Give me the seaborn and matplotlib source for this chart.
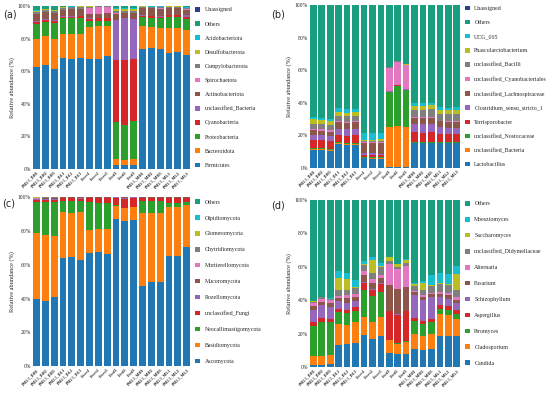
import numpy as np
import matplotlib.pyplot as plt
from matplotlib.patches import Patch
from matplotlib.ticker import PercentFormatter
import seaborn as sns

sns.set_theme(style="white")
plt.rcParams["font.family"] = ["Liberation Serif", "DejaVu Serif"]

samples = ["PM2.5_DH1", "PM2.5_DH2", "PM2.5_DH3", "PM2.5_DL1", "PM2.5_DL2", "PM2.5_DL3",
           "Feces1", "Feces2", "Feces3", "Feed1", "Feed2", "Feed3",
           "PM2.5_MH1", "PM2.5_MH2", "PM2.5_MH3", "PM2.5_ML1", "PM2.5_ML2", "PM2.5_ML3"]

# (a) bacterial phyla, bottom -> top
bact_phylum = {
    "Firmicutes":            [62.5, 63.5, 61.5, 68, 67.5, 68, 67.7, 67.5, 69, 2.4, 2.2, 2.6, 73.5, 74, 73.5, 71, 71.5, 70],
    "Bacteroidota":          [17, 18, 18.5, 15, 15.5, 15, 19.5, 20, 18.5, 3.7, 3.5, 3.6, 14, 13, 13, 15.5, 15, 15],
    "Proteobacteria":        [9.5, 8.5, 9.5, 9.5, 9.5, 9.5, 3.5, 3.5, 3.5, 22.9, 21.3, 23, 5.5, 5.5, 6, 6.5, 6.5, 7],
    "Cyanobacteria":         [1.2, 1.5, 1.5, 1, 1, 1.2, 1.5, 1.5, 1.5, 38.1, 40, 38.5, 1, 1.2, 1, 1.3, 1.3, 1],
    "unclassified_Bacteria": [0.6, 0.5, 0.5, 0.5, 0.4, 0.3, 0.3, 0.3, 0.3, 24.5, 25.5, 24.5, 0.3, 0.3, 0.3, 0.3, 0.3, 1.2],
    "Actinobacteriota":      [4, 4, 4, 3.5, 4, 4, 2.5, 2.5, 3, 3.7, 3, 3.3, 4.5, 4.5, 4.5, 4, 4, 3.5],
    "Spirochaetota":         [0.3, 0.4, 0.3, 0.3, 0.3, 0.3, 4, 4, 3.5, 0.3, 0.3, 0.3, 0.2, 0.2, 0.2, 0.3, 0.3, 0.3],
    "Campylobacterota":      [1, 1, 1, 1, 1, 1, 0.5, 0.4, 0.4, 1, 1, 1, 0.5, 0.6, 0.7, 0.5, 0.5, 0.5],
    "Desulfobacterota":      [0.6, 0.5, 0.5, 0.5, 0.4, 0.4, 0.3, 0.2, 0.2, 1.3, 1.3, 1.2, 0.2, 0.3, 0.3, 0.3, 0.3, 0.3],
    "Acidobacteriota":       [0.5, 0.3, 0.5, 0.3, 0.2, 0.2, 0.1, 0.05, 0.05, 0.8, 0.7, 0.7, 0.1, 0.2, 0.2, 0.1, 0.1, 0.5],
    "Others":                [2.8, 1.8, 2.2, 0.4, 0.2, 0.1, 0.1, 0.05, 0.05, 1.3, 1.2, 1.3, 0.2, 0.2, 0.3, 0.2, 0.2, 0.7],
    "Unassigned":            [0.05] * 18,
}

# (b) bacterial genera, bottom -> top
bact_genus = {
    "Lactobacillus":                  [10.8, 11, 10.5, 14.5, 14, 14, 5.8, 5.5, 5.5, 0.6, 0.5, 0.8, 15, 15, 15, 15, 15, 15],
    "unclassified_Bacteria":          [0.5, 0.5, 0.5, 0.5, 0.5, 0.5, 0.3, 0.3, 0.3, 24.4, 25.5, 24.5, 0.5, 0.5, 0.5, 0.5, 0.5, 0.5],
    "unclassified_Nostocaceae":       [0.9, 0.9, 0.8, 0.6, 0.6, 0.6, 0.6, 0.6, 0.6, 21.6, 24.5, 22.5, 0.7, 0.7, 0.7, 0.7, 0.7, 0.7],
    "Terrisporobacter":               [5, 4.5, 4.5, 4.5, 4.5, 5, 1.5, 1.5, 1.3, 0.3, 0.2, 0.3, 6, 5.5, 6, 4.8, 4.5, 4.5],
    "Clostridium_sensu_stricto_1":    [3.3, 3.5, 3.5, 4, 4, 4, 0.8, 1, 1, 0.2, 0.2, 0.2, 5, 5.5, 5, 4, 4, 4],
    "unclassified_Lachnospiraceae":   [2.8, 2.5, 2.5, 4, 4, 3.8, 6, 6.5, 6.7, 0.3, 0.3, 0.3, 3.5, 3.5, 3.5, 3.5, 3.5, 3.5],
    "unclassified_Cyanobacteriales":  [0.8, 0.8, 0.8, 0.6, 0.6, 0.6, 0.6, 0.6, 0.6, 14.2, 14, 14.5, 0.5, 0.5, 0.5, 0.5, 0.5, 0.5],
    "unclassified_Bacilli":           [2.8, 3, 3, 3.4, 3.4, 3.4, 0.8, 0.8, 0.8, 0.4, 0.4, 0.4, 4.5, 4.5, 4.8, 4.3, 4.3, 4.5],
    "Phascolarctobacterium":          [3, 2.5, 2.5, 2.4, 2.4, 2.4, 0.8, 0.6, 0.8, 0.1, 0.1, 0.1, 2.5, 2.5, 2.5, 2.5, 2.5, 2.5],
    "UCG_005":                        [1.2, 1.5, 1.2, 2, 2, 2, 4.5, 4, 4, 0.1, 0.1, 0.1, 1.5, 1.5, 1.5, 1.5, 1.5, 2],
    "Others":                         [68.9, 69.3, 70.2, 63.5, 64, 63.7, 78.3, 78.6, 78.4, 37.8, 34.2, 36.3, 60.3, 60.3, 60, 62.7, 63, 62.3],
    "Unassigned":                     [0.05] * 18,
}

# (c) fungal phyla, bottom -> top
fung_phylum = {
    "Ascomycota":             [39.7, 38.7, 41, 63.8, 64.5, 63, 67, 67.5, 66.5, 87, 86, 86.5, 47.5, 49.8, 50, 65, 65, 70.5],
    "Basidiomycota":          [39, 38.6, 36, 27.3, 26, 28, 13.5, 13.5, 14.5, 7.9, 7.3, 7.5, 43, 41, 40.5, 29, 29, 25],
    "Neocallimastigomycota":  [18.3, 19.7, 20, 6.7, 7.2, 6.5, 16.4, 15.5, 15.5, 0.2, 0.2, 0.2, 7.3, 7, 7.3, 2.5, 2.7, 1.8],
    "unclassified_Fungi":     [1.3, 1, 1.2, 1.5, 1.5, 1.5, 2.5, 2.8, 2.8, 4.5, 5.5, 5.3, 1.5, 1.5, 1.5, 2.8, 2.6, 2],
    "Rozellomycota":          [0.5, 1, 0.8, 0.3, 0.4, 0.5, 0.3, 0.4, 0.4, 0.2, 0.7, 0.3, 0.3, 0.3, 0.3, 0.3, 0.3, 0.3],
    "Mucoromycota":           [0.3, 0.3, 0.3, 0.2, 0.2, 0.3, 0.1, 0.1, 0.1, 0.1, 0.1, 0.1, 0.2, 0.2, 0.2, 0.2, 0.2, 0.2],
    "Mortierellomycota":      [0.3, 0.3, 0.4, 0.1, 0.1, 0.1, 0.1, 0.1, 0.1, 0.05, 0.1, 0.05, 0.1, 0.1, 0.1, 0.1, 0.1, 0.1],
    "Chytridiomycota":        [0.2, 0.2, 0.1, 0.05, 0.05, 0.05, 0.05, 0.05, 0.05, 0.05, 0.1, 0.05, 0.05, 0.05, 0.05, 0.05, 0.05, 0.05],
    "Glomeromycota":          [0.3, 0.1, 0.1, 0.05, 0.05, 0.05, 0.05, 0.05, 0.05, 0, 0, 0, 0.05, 0.05, 0.05, 0.05, 0.05, 0.05],
    "Olpidiomycota":          [0.1, 0.05, 0.05, 0, 0, 0, 0, 0, 0, 0, 0, 0, 0, 0, 0, 0, 0, 0],
    "Others":                 [0.05, 0.05, 0.05, 0, 0, 0, 0, 0, 0, 0, 0, 0, 0, 0, 0, 0, 0, 0],
}

# (d) fungal genera, bottom -> top
fung_genus = {
    "Candida":                      [1, 1.2, 1.5, 13.3, 13.5, 14.5, 19, 17, 18.7, 8.5, 7.5, 8, 10.5, 10.3, 10.5, 18.5, 18.8, 18.3],
    "Cladosporium":                 [5.4, 5.6, 5.5, 12.5, 11.5, 12.5, 11, 10, 11.2, 7.5, 6.5, 7, 9.5, 8.5, 9, 13.3, 12.5, 10.5],
    "Piromyces":                    [18.3, 20, 20, 6.8, 7, 6.5, 16, 15.5, 15, 0.3, 0.3, 0.3, 7.5, 7, 7.5, 2.8, 2.5, 3],
    "Aspergillus":                  [2.5, 2.5, 1.5, 2.2, 2.3, 2.3, 4.2, 3.5, 4.5, 16.9, 17, 18, 1.8, 2, 2, 2.6, 2.5, 2],
    "Schizophyllum":                [6.6, 7.5, 7.5, 4.4, 4, 3.7, 0.6, 0.8, 0.7, 0.3, 0.3, 0.3, 13.5, 12, 13, 4.4, 4.5, 4.4],
    "Fusarium":                     [2.4, 2, 2.5, 2.2, 3, 2.5, 4.3, 3.5, 3, 15.6, 15, 14.5, 2, 2, 1.5, 2, 2.2, 2],
    "Alternaria":                   [2, 2, 1.5, 1.3, 1.5, 1.5, 2.3, 2.5, 2, 12.3, 12, 12.5, 0.8, 1, 0.7, 1, 1.2, 1.9],
    "unclassified_Didymellaceae":   [0.6, 0.8, 0.6, 3.4, 3, 3.5, 3.5, 3.5, 4.5, 2, 1.5, 1.5, 3, 3, 4.5, 5.3, 5, 4.2],
    "Saccharomyces":                [0.5, 0.3, 0.3, 7.2, 6.8, 0.8, 0.9, 7.5, 0.6, 2.5, 1.4, 2.2, 1, 4.5, 0.5, 0.6, 0.5, 9.2],
    "Moesziomyces":                 [0.3, 0.2, 0.2, 4.2, 3.5, 4, 1.8, 2, 2, 0.1, 0.2, 0.1, 0.8, 1.3, 5.8, 6, 6, 4.9],
    "Others":                       [60.4, 57.9, 58.9, 42.5, 43.9, 48.2, 36.4, 34.2, 37.8, 34, 38.3, 35.6, 49.6, 48.4, 45, 43.5, 44.3, 39.6],
}

base_colors = ["#1f77b4", "#ff7f0e", "#2ca02c", "#d62728", "#9467bd", "#8c564b",
               "#e377c2", "#7f7f7f", "#bcbd22", "#17becf"]
others_color = "#1a9e80"
unassigned_color = "#2a3f8f"


def stacked(ax, data, spacing):
    names = list(data)
    colors = (base_colors + [others_color, unassigned_color])[:len(names)]
    bottom = np.zeros(len(samples))
    handles = []
    for name, col in zip(names, colors):
        vals = np.array(data[name], dtype=float)
        sns.barplot(x=samples, y=vals, order=samples, bottom=bottom, color=col,
                    saturation=1, width=0.78, errorbar=None, linewidth=0, ax=ax)
        bottom += vals
        handles.append(Patch(facecolor=col, edgecolor="none", label=name))
    ax.set_ylim(0, 100)
    ax.set_xlim(-0.5, len(samples) - 0.5)
    ax.set_yticks([0, 20, 40, 60, 80, 100])
    ax.yaxis.set_major_formatter(PercentFormatter(decimals=0))
    ax.set_ylabel("Relative abundance (%)", fontsize=4.5, labelpad=2)
    ax.set_xlabel("")
    ax.tick_params(axis="y", labelsize=4, length=0, pad=1)
    ax.tick_params(axis="x", labelsize=3, length=0, pad=1)
    plt.setp(ax.get_xticklabels(), rotation=45, ha="right", rotation_mode="anchor",
             fontweight="bold")
    sns.despine(ax=ax, left=True, bottom=True)
    ax.legend(handles=handles[::-1], loc="center left", bbox_to_anchor=(1.0, 0.5),
              frameon=False, fontsize=4.2, handlelength=0.8, handleheight=0.8,
              handletextpad=0.8, labelspacing=spacing, borderaxespad=0.3)


fig = plt.figure(figsize=(5.54, 3.95), dpi=100)
ax_a = fig.add_axes([0.058, 0.572, 0.287, 0.413])
ax_b = fig.add_axes([0.558, 0.575, 0.274, 0.412])
ax_c = fig.add_axes([0.058, 0.073, 0.287, 0.428])
ax_d = fig.add_axes([0.558, 0.071, 0.274, 0.423])

stacked(ax_a, bact_phylum, 1.52)
stacked(ax_b, bact_genus, 1.52)
stacked(ax_c, fung_phylum, 1.82)
stacked(ax_d, fung_genus, 1.82)

for x, y, lab in [(0.006, 0.955, "(a)"), (0.49, 0.955, "(b)"),
                  (0.004, 0.478, "(c)"), (0.49, 0.472, "(d)")]:
    fig.text(x, y, lab, fontsize=7, family="DejaVu Sans")

fig.savefig("out.png", dpi=100)
